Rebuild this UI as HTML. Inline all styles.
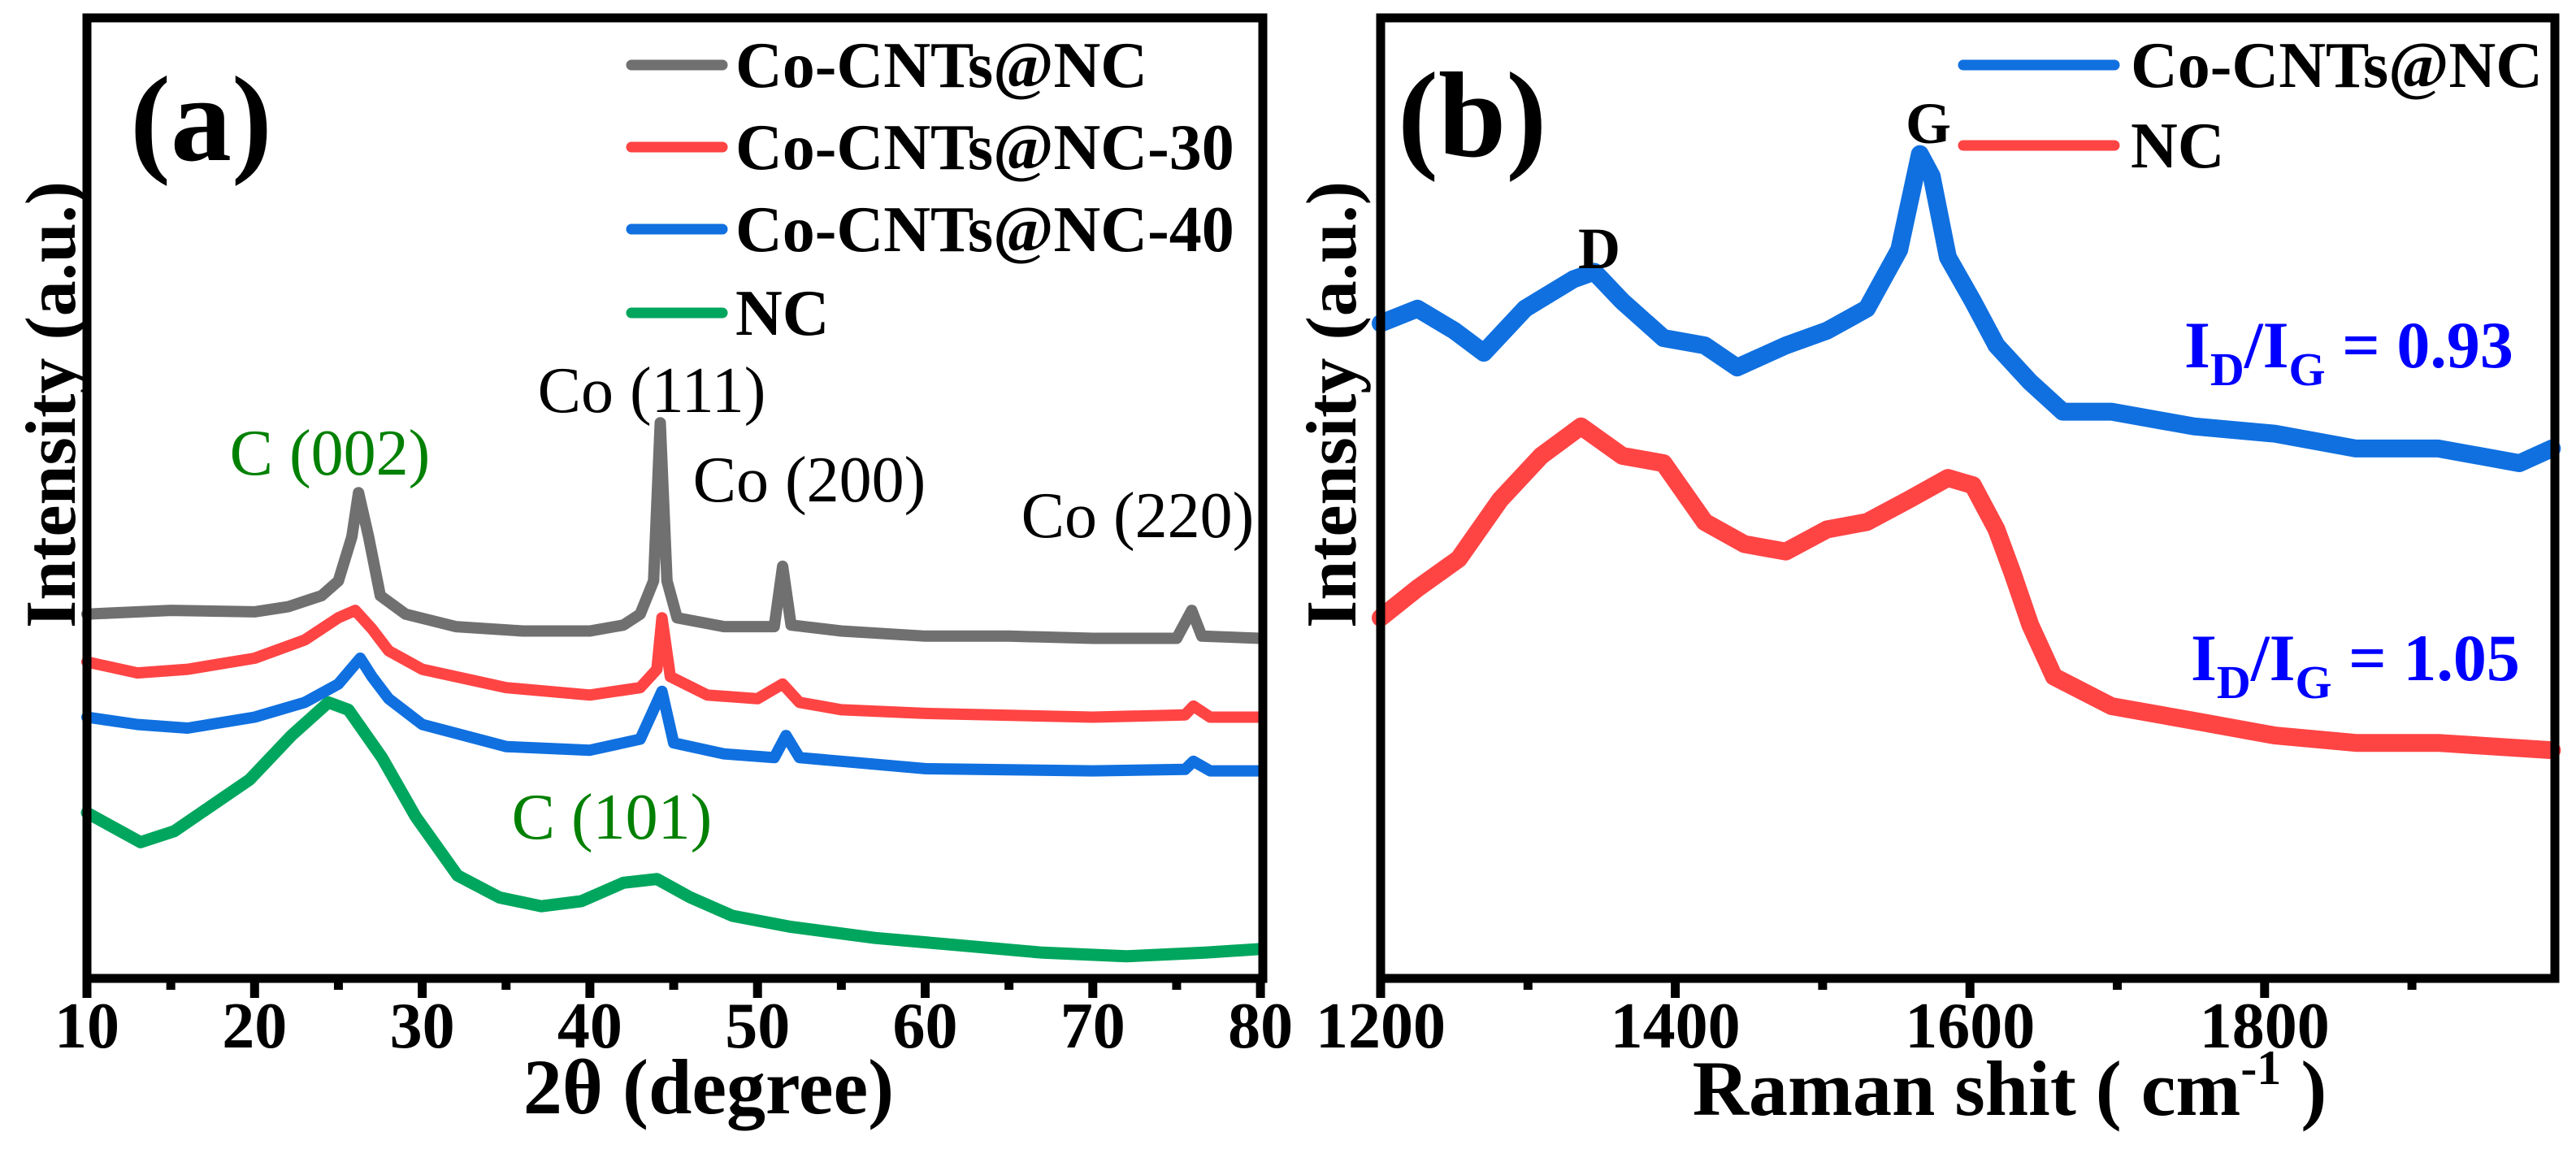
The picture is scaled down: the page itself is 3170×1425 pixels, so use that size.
<!DOCTYPE html>
<html><head><meta charset="utf-8"><style>
html,body{margin:0;padding:0;background:#fff;}
svg, svg text, svg tspan{font-family:"Liberation Serif","Times New Roman",Times,serif;}
</style></head><body>
<svg id="fig" width="3170" height="1420" viewBox="0 0 3170 1420" xmlns="http://www.w3.org/2000/svg" font-family="Liberation Serif, serif">
<g id="pa"></g>
<g id="pb"></g>
<text x="160" y="197" font-size="150" font-weight="bold">(a)</text>
<text x="1720" y="192" font-size="150" font-weight="bold">(b)</text>
<text transform="translate(92,498) rotate(-90)" text-anchor="middle" font-size="88" font-weight="bold">Intensity (a.u.)</text>
<text transform="translate(1668,498) rotate(-90)" text-anchor="middle" font-size="88" font-weight="bold">Intensity (a.u.)</text>
<text x="872" y="1370" text-anchor="middle" font-size="96" font-weight="bold">2θ (degree)</text>
<text x="2473" y="1372" text-anchor="middle" font-size="96" font-weight="bold">Raman shit ( cm<tspan dy="-38" font-size="60">-1</tspan><tspan dy="38"> )</tspan></text>
<g font-size="80" text-anchor="middle">
<text x="802" y="507">Co (111)</text>
<text x="406" y="584" fill="#008000">C (002)</text>
<text x="996" y="617">Co (200)</text>
<text x="1400" y="661">Co (220)</text>
<text x="753" y="1032" fill="#008000">C (101)</text>
</g>
<g font-size="72" font-weight="bold" text-anchor="middle">
<text x="1968" y="330">D</text>
<text x="2373" y="176">G</text>
</g>
<g font-size="82" font-weight="bold" fill="#0000ff">
<text x="2688" y="452">I<tspan dy="22" font-size="58">D</tspan><tspan dy="-22">/I</tspan><tspan dy="22" font-size="58">G</tspan><tspan dy="-22"> = 0.93</tspan></text>
<text x="2696" y="837">I<tspan dy="22" font-size="58">D</tspan><tspan dy="-22">/I</tspan><tspan dy="22" font-size="58">G</tspan><tspan dy="-22"> = 1.05</tspan></text>
</g>
</svg>
<script>
const NS="http://www.w3.org/2000/svg";
// Panel (a) XRD data
const xrdGrayX=[10,15,20,22,24,25,25.8,26.2,26.8,27.5,29,32,36,40,42,43,43.8,44.2,44.6,45.2,48,51,51.5,52,55,60,65,70,75,75.9,76.5,80];
const xrdGrayY=[495,500,498,505,520,540,600,660,600,520,495,478,472,472,480,495,540,755,540,490,478,478,560,480,472,465,465,462,462,500,465,462];
const xrdRedX=[10,13,16,20,23,25,26,27,28,30,35,40,43,44,44.3,44.8,47,50,51.5,52.5,55,60,70,75.5,76,77,80];
const xrdRedY=[430,415,420,435,460,490,500,475,445,420,395,385,395,420,490,410,385,380,400,375,365,360,355,358,370,355,355];
const xrdBlueX=[10,13,16,20,23,25,26.3,27,28,30,35,40,43,44.3,45,48,51,51.7,52.5,55,60,70,75.5,76,77,80];
const xrdBlueY=[355,345,340,355,375,400,435,410,380,345,315,310,325,390,320,305,300,330,300,295,285,282,284,295,282,282];
const xrdGreenX=[10,13.2,15.2,19.7,22.2,24.4,25.6,27.6,29.6,32.1,34.6,37.1,39.5,42,44,46,48.5,52,57,62,67,72,76.7,80];
const xrdGreenY=[225,185,200,270,330,375,365,300,220,140,110,98,105,130,135,110,85,70,55,45,35,30,35,40];
const xrdTicks=[10,20,30,40,50,60,70,80];
const xrdMinor=[15,25,35,45,55,65,75];
// Panel (b) Raman data
const ramBlueX=[1200,1225,1250,1270,1298,1331,1345,1364,1392,1420,1442,1475,1503,1530,1552,1566,1574,1585,1602,1618,1641,1663,1696,1752,1807,1862,1918,1973,1995];
const ramBlueY=[890,910,880,850,910,950,960,920,870,860,830,860,880,910,990,1120,1090,980,920,860,810,770,770,750,740,720,720,700,720];
const ramRedX=[1200,1225,1253,1281,1309,1336,1364,1392,1420,1447,1475,1503,1530,1558,1585,1602,1618,1629,1641,1657,1696,1752,1807,1862,1918,1995];
const ramRedY=[490,530,570,650,710,750,710,700,620,590,580,610,620,650,680,670,610,550,480,410,370,350,330,320,320,310];
const ramTicks=[1200,1400,1600,1800];
const ramMinor=[1300,1500,1700,1900];

const TOP=22,BOT=1204;
function yS(v){return BOT-(v/1305)*(BOT-TOP);}
function xA(v){return 107+(v-10)*20.63;}
function xB(v){return 1699+(v-1200)*1.813;}
function el(tag,attrs,parent){const e=document.createElementNS(NS,tag);for(const k in attrs)e.setAttribute(k,attrs[k]);parent.appendChild(e);return e;}

function drawSeries(parent,xs,ys,xf,color,name,w){
  const pts=xs.map((x,i)=>xf(x).toFixed(1)+","+yS(ys[i]).toFixed(1)).join(" ");
  const p=el("polyline",{points:pts,fill:"none",stroke:color,"stroke-width":w,"stroke-linejoin":"round","stroke-linecap":"round"},parent);
  
  
}
function drawAxes(parent,x0,x1,ticks,minor,xf,nm){
  ticks.forEach(t=>{
    const l=el("line",{x1:xf(t),x2:xf(t),y1:BOT,y2:BOT+24,stroke:"#000","stroke-width":11},parent);
    
    
    const tx=el("text",{x:xf(t),y:1289,"text-anchor":"middle","font-size":80,"font-weight":"bold"},parent);
    tx.textContent=t;
    
    
  });
  minor.forEach(t=>{
    const l=el("line",{x1:xf(t),x2:xf(t),y1:BOT,y2:BOT+14,stroke:"#000","stroke-width":11},parent);
    
    
  });
  const r=el("rect",{x:x0,y:TOP,width:x1-x0,height:BOT-TOP,fill:"none",stroke:"#000","stroke-width":11},parent);
  
  
}
function legend(parent,y,color,label,lx0,lx1,tx,nm){
  const g=el("g",{},parent);
  
  
  el("line",{x1:lx0,x2:lx1,y1:y,y2:y,stroke:color,"stroke-width":13,"stroke-linecap":"round"},g);
  const t=el("text",{x:tx,y:y+27,"font-size":80,"font-weight":"bold"},g);
  t.textContent=label;
}
const pa=document.getElementById("pa"),pb=document.getElementById("pb");
drawSeries(pa,xrdGreenX,xrdGreenY,xA,"#00a65e","series-nc",15);
drawSeries(pa,xrdBlueX,xrdBlueY,xA,"#1070e0","series-co-cnts-nc-40",14);
drawSeries(pa,xrdRedX,xrdRedY,xA,"#ff4444","series-co-cnts-nc-30",14);
drawSeries(pa,xrdGrayX,xrdGrayY,xA,"#707070","series-co-cnts-nc",14);
drawAxes(pa,107,1554,xrdTicks,xrdMinor,xA,"x-axis-a");
legend(pa,80,"#707070","Co-CNTs@NC",777,889,905,"legend-entry-co-cnts-nc");
legend(pa,181,"#ff4444","Co-CNTs@NC-30",777,889,905,"legend-entry-co-cnts-nc-30");
legend(pa,282,"#1070e0","Co-CNTs@NC-40",777,889,905,"legend-entry-co-cnts-nc-40");
legend(pa,385,"#00a65e","NC",777,889,905,"legend-entry-nc");

drawSeries(pb,ramRedX,ramRedY,xB,"#ff4444","raman-series-nc",22);
drawSeries(pb,ramBlueX,ramBlueY,xB,"#1070e0","raman-series-co-cnts-nc",22);
drawAxes(pb,1699,3144,ramTicks,ramMinor,xB,"x-axis-b");
legend(pb,80,"#1070e0","Co-CNTs@NC",2416,2602,2622,"legend-entry-raman-co-cnts-nc");
legend(pb,179,"#ff4444","NC",2416,2602,2622,"legend-entry-raman-nc");
</script>
</body></html>
